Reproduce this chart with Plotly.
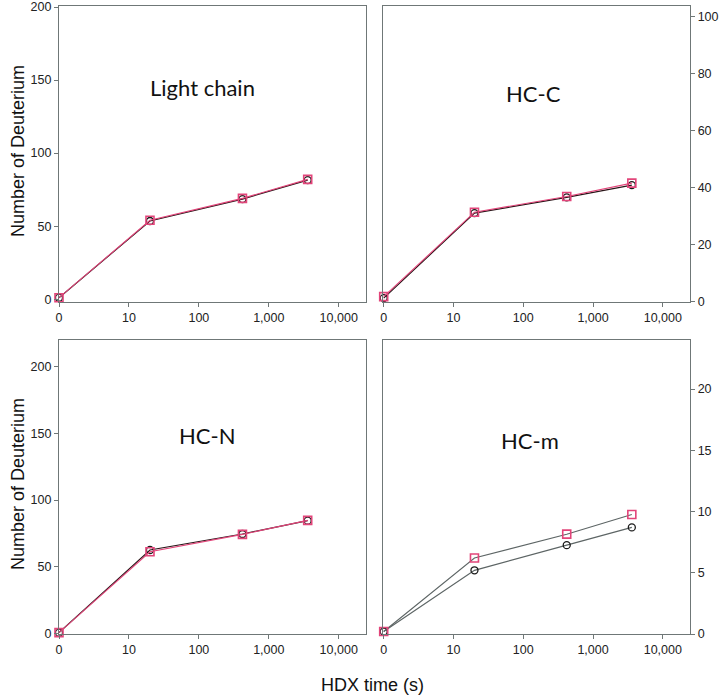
import plotly.graph_objects as go

# ---- data -------------------------------------------------------------
# HDX time points (s); the 0 s point is drawn at the "0" tick (10^0 on the log axis)
time_points = [1, 20, 420, 3600]
tick_vals = [1, 10, 100, 1000, 10000]
tick_text = ["0", "10", "100", "1,000", "10,000"]

panels = ["Light chain", "HC-C", "HC-N", "HC-m"]

lc_black = [1.0, 53.5, 68.5, 81.5]
lc_pink = [1.0, 54.0, 69.0, 82.0]
hcc_black = [1.2, 31.0, 36.5, 40.8]
hcc_pink = [1.7, 31.3, 36.8, 41.5]
hcn_black = [0.5, 62.5, 74.5, 84.5]
hcn_pink = [0.5, 61.2, 74.2, 84.7]
hcm_black = [0.2, 5.2, 7.25, 8.7]
hcm_pink = [0.2, 6.2, 8.15, 9.75]

y_ticks_left = [0, 50, 100, 150, 200]
y_ticks_hcc = [0, 20, 40, 60, 80, 100]
y_ticks_hcm = [0, 5, 10, 15, 20]

y_title = "Number of Deuterium"
x_title = "HDX time (s)"

# ---- layout geometry --------------------------------------------------
W, H = 728, 698
AX = "#6f7777"
TXT = "#222222"
PINK = "#e2457a"
DARK = "#2a1518"

def px_x(a, b):
    return [a / W, b / W]

def px_y(top, bottom):
    return [1 - bottom / H, 1 - top / H]

fig = go.Figure()

series = [
    (lc_black, lc_pink, DARK, PINK),
    (hcc_black, hcc_pink, DARK, PINK),
    (hcn_black, hcn_pink, DARK, PINK),
    (hcm_black, hcm_pink, "#5d6565", "#5d6565"),
]

for i, (blk, pnk, lc_b, lc_p) in enumerate(series):
    xa = "x" if i == 0 else f"x{i+1}"
    ya = "y" if i == 0 else f"y{i+1}"
    fig.add_trace(go.Scatter(
        x=time_points, y=blk, xaxis=xa, yaxis=ya, mode="lines+markers",
        line=dict(color=lc_b, width=1.2),
        marker=dict(symbol="circle-open", size=7, color="#1a1a1a",
                    line=dict(width=1.3, color="#1a1a1a")),
        showlegend=False, cliponaxis=False))
    fig.add_trace(go.Scatter(
        x=time_points, y=pnk, xaxis=xa, yaxis=ya, mode="lines+markers",
        line=dict(color=lc_p, width=1.1),
        marker=dict(symbol="square-open", size=8, color=PINK,
                    line=dict(width=1.6, color=PINK)),
        showlegend=False, cliponaxis=False))

tickfont = dict(family="Liberation Sans, Arial, sans-serif", size=12.5, color=TXT)

def xaxis(dom, rng):
    return dict(domain=dom, type="log", range=rng, tickvals=tick_vals,
                ticktext=tick_text, ticks="outside", ticklen=4, tickcolor=AX,
                showline=True, linecolor=AX, linewidth=1.3, mirror=True,
                showgrid=False, zeroline=False, tickfont=tickfont,
                ticklabeloverflow="allow", automargin=False)

def yaxis(dom, rng, tv, side, anchor):
    return dict(domain=dom, range=rng, tickvals=tv, ticks="outside", ticklen=4,
                tickcolor=AX, showline=True, linecolor=AX, linewidth=1.3,
                mirror=True, showgrid=False, zeroline=False, side=side,
                anchor=anchor, tickfont=tickfont, ticklabeloverflow="allow",
                automargin=False)

xl = px_x(59, 366)
xr = px_x(383, 690)
yt = px_y(6, 301.5)
yb = px_y(340, 634)

fig.update_layout(
    width=W, height=H, margin=dict(l=0, r=0, t=0, b=0),
    paper_bgcolor="white", plot_bgcolor="white",
    xaxis=dict(xaxis(xl, [0, 4.39]), anchor="y"),
    yaxis=yaxis(yt, [-1.6, 200.7], y_ticks_left, "left", "x"),
    xaxis2=dict(xaxis(xr, [-0.01, 4.39]), anchor="y2"),
    yaxis2=yaxis(yt, [0, 103.6], y_ticks_hcc, "right", "x2"),
    xaxis3=dict(xaxis(xl, [0, 4.39]), anchor="y3"),
    yaxis3=yaxis(yb, [-0.5, 220], y_ticks_left, "left", "x3"),
    xaxis4=dict(xaxis(xr, [-0.01, 4.39]), anchor="y4"),
    yaxis4=yaxis(yb, [0, 24], y_ticks_hcm, "right", "x4"),
)

label_font = dict(family="Lato, Carlito, sans-serif", size=22, color="#111")
label_pos = [(202, 88), (533, 93), (207, 435), (530, 440)]
for name, (lx, ly) in zip(panels, label_pos):
    fig.add_annotation(text=name, x=lx / W, y=1 - ly / H, xref="paper", yref="paper",
                       showarrow=False, font=label_font, xanchor="center", yanchor="middle")

title_font = dict(family="Liberation Sans, Arial, sans-serif", size=18, color="#111")
for ty in (151, 484):
    fig.add_annotation(text=y_title, x=18 / W, y=1 - ty / H, xref="paper", yref="paper",
                       showarrow=False, textangle=-90, xanchor="center", yanchor="middle",
                       font=title_font)

fig.add_annotation(text=x_title, x=373 / W, y=1 - 685 / H, xref="paper", yref="paper",
                   showarrow=False, xanchor="center", yanchor="middle", font=title_font)

fig.write_html("out.html", config={"displayModeBar": False},
               post_script="document.body.style.margin='0';")
